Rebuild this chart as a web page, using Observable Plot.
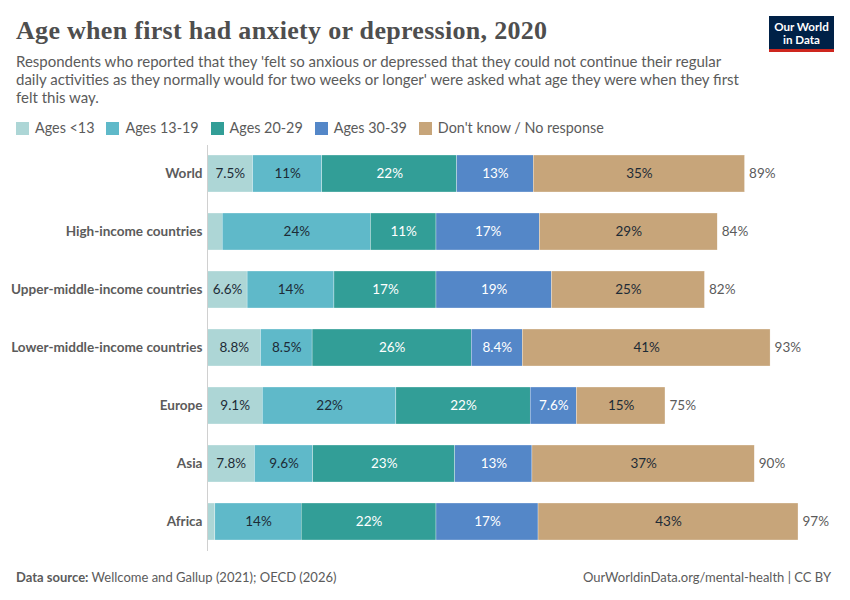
<!DOCTYPE html>
<html><head><meta charset="utf-8">
<script src="https://cdn.jsdelivr.net/npm/d3@7"></script>
<script src="https://cdn.jsdelivr.net/npm/@observablehq/plot@0.6"></script>
<style>
html,body{margin:0;padding:0;background:#fff;font-family:Lato,sans-serif;}
#page{position:relative;width:850px;height:600px;overflow:hidden;}
#page>*{position:absolute;}
#title{left:16px;top:14px;font:600 26px/34px "Liberation Serif",serif;color:#4e4e4e;letter-spacing:.3px;margin:0;white-space:nowrap;}
#sub{left:16px;top:52px;font-size:15px;line-height:18.2px;color:#5b5b5b;white-space:nowrap;}
#legend{left:16px;top:119px;display:flex;font-size:14.35px;line-height:18px;color:#5b5b5b;white-space:nowrap;}
#legend div{display:flex;align-items:center;margin-right:12px;}
#legend i{display:inline-block;width:13px;height:13px;margin-right:6px;}
#chart{left:0;top:144.5px;}
#logo{left:769px;top:16px;width:65px;height:33px;background:#002147;border-bottom:3px solid #ce261e;color:#fff;font-weight:700;font-size:11.6px;line-height:13px;text-align:center;}
#logo span{display:block;padding-top:4px;}
#src{left:16px;top:568px;font-size:13px;line-height:18px;color:#5b5b5b;}
#cc{right:19px;top:568px;font-size:13px;line-height:18px;color:#5b5b5b;}
</style></head><body>
<div id="page">
<h1 id="title">Age when first had anxiety or depression, 2020</h1>
<div id="sub">Respondents who reported that they 'felt so anxious or depressed that they could not continue their regular<br>daily activities as they normally would for two weeks or longer' were asked what age they were when they first<br>felt this way.</div>
<div id="legend"></div>
<div id="chart"></div>
<div id="logo"><span>Our World<br>in Data</span></div>
<div id="src"><b>Data source:</b> Wellcome and Gallup (2021); OECD (2026)</div>
<div id="cc">OurWorldinData.org/mental-health | CC BY</div>
</div>
<script>
const regions = ["World","High-income countries","Upper-middle-income countries","Lower-middle-income countries","Europe","Asia","Africa"];
const ages = ["Ages <13","Ages 13-19","Ages 20-29","Ages 30-39","Don't know / No response"];
const colors = ["#add6d6","#5fb9c9","#329e97","#5487c8","#c7a57a"];
const under13 = [7.5,2.5,6.6,8.8,9.1,7.8,1.3];
const a13to19 = [11.4,24.4,14.3,8.5,22,9.6,14.2];
const a20to29 = [22.2,10.8,16.8,26.2,22.1,23.4,22.2];
const a30to39 = [12.6,17,19,8.4,7.6,12.7,16.8];
const dontKnow = [34.8,29.3,25.2,40.8,14.6,36.6,42.8];
const totals = [89,84,82,93,75,90,97];
const series = [under13,a13to19,a20to29,a30to39,dontKnow];

const rows = series.flatMap((vals,i)=>vals.map((v,j)=>({region:regions[j],age:ages[i],value:v,
  label: v<3 ? "" : (v<10 ? v.toFixed(1)+"%" : Math.round(v)+"%"),
  tone: i<2||i===4 ? "#1d2b36" : "#fff"})));
const totalRows = regions.map((r,j)=>({region:r,total:series.reduce((s,a)=>s+a[j],0),label:totals[j]+"%"}));

d3.select("#legend").selectAll("div").data(ages).join("div")
  .html((d,i)=>`<i style="background:${colors[i]}"></i>`).append("span").text(d=>d);

const chart = Plot.plot({
  width:850,height:406,
  marginLeft:207,marginRight:0,marginTop:0,marginBottom:0,
  style:{fontFamily:"Lato, sans-serif",background:"transparent"},
  x:{domain:[0,105.86],axis:null},
  y:{domain:regions,paddingInner:0.362,paddingOuter:0.181,align:0.5,label:null,axis:null},
  color:{domain:ages,range:colors},
  marks:[
    Plot.axisY(regions,{anchor:"left",tickSize:0,tickPadding:5,fontSize:13.55,fontWeight:700,fill:"#5b5b5b",label:null}),
    Plot.barX(rows,Plot.stackX({x:"value",y:"region",z:"age",order:null,fill:"age",stroke:"#fff",strokeWidth:0.3})),
    Plot.text(rows,Plot.stackX({x:"value",y:"region",z:"age",order:null,text:"label",fill:"tone",fontSize:13.5})),
    Plot.text(totalRows,{x:"total",y:"region",text:"label",dx:4,textAnchor:"start",fill:"#5b5b5b",fontSize:13.5}),
    Plot.ruleX([0],{stroke:"#d0d0d0",strokeWidth:1})
  ]
});
document.getElementById("chart").appendChild(chart);
</script>
</body></html>
